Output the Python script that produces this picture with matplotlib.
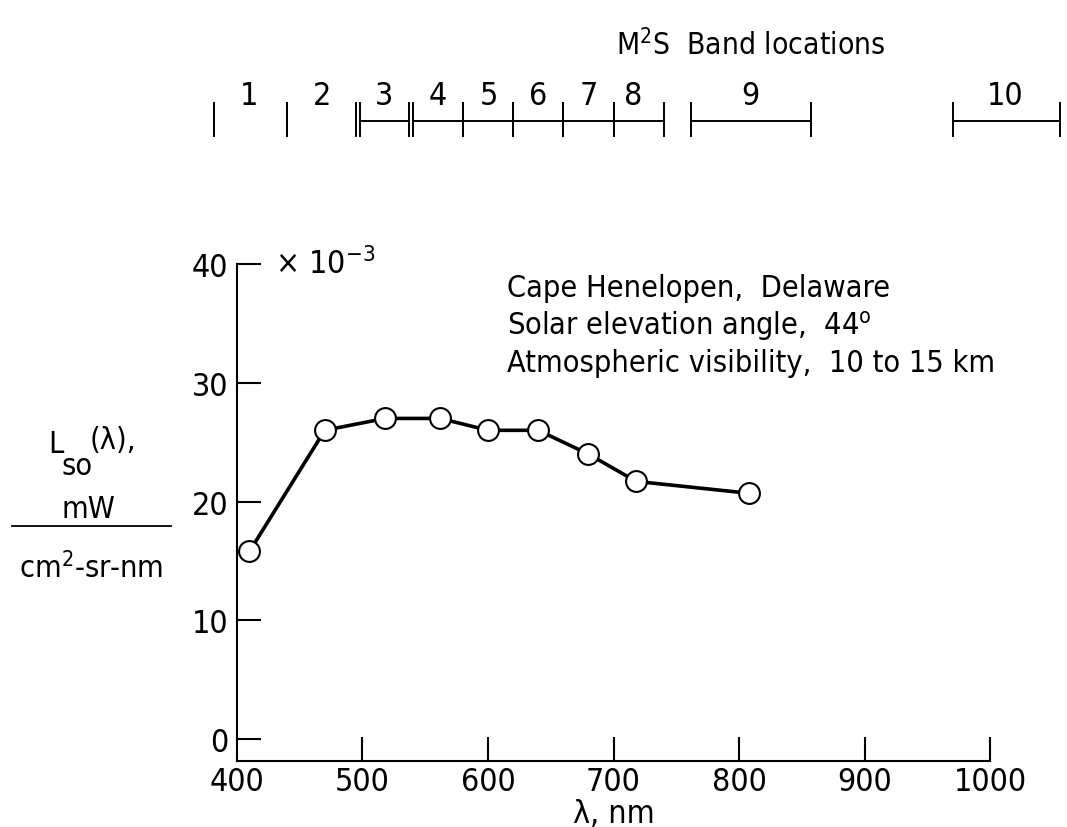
import matplotlib
matplotlib.use('Agg')
import matplotlib.pyplot as plt
import matplotlib.transforms as mtransforms

plt.rcParams['font.family'] = ['DejaVu Sans']
plt.rcParams['font.stretch'] = 'condensed'
plt.rcParams['mathtext.default'] = 'regular'

# measured radiance, band centres (nm) and values (x 10^-3)
wavelength = [410, 470, 518, 562, 600, 640, 680, 718, 808]
radiance = [15.8, 26.0, 27.0, 27.0, 26.0, 26.0, 24.0, 21.7, 20.7]

# M2S band locations
band_names = ['1', '2', '3', '4', '5', '6', '7', '8', '9', '10']
band_start = [382, 440, 498, 540, 580, 620, 660, 700, 762, 970]
band_end = [440, 495, 537, 580, 620, 660, 700, 740, 857, 1056]
band_label_x = [410, 468, 517, 560, 601, 640, 680, 716, 809, 1012]

x_ticks = [400, 500, 600, 700, 800, 900, 1000]
y_ticks = [0, 10, 20, 30, 40]

notes = ['Cape Henelopen,  Delaware',
         'Solar elevation angle,  44$^{o}$',
         'Atmospheric visibility,  10 to 15 km']

fig = plt.figure(figsize=(10.67, 8.28), dpi=100)
ax = fig.add_axes([0.222, 0.106, 0.706, 0.574])

ax.plot(wavelength, radiance, color='black', linewidth=2.6, marker='o',
        markersize=15, markerfacecolor='white', markeredgecolor='black',
        markeredgewidth=1.5, clip_on=False, zorder=3)

ax.set_xlim(400, 1000)
ax.set_ylim(0, 40)
ax.set_xticks(x_ticks)
ax.set_yticks(y_ticks)
ax.spines['top'].set_visible(False)
ax.spines['right'].set_visible(False)
ax.spines['bottom'].set_position(('outward', 16))
for s in ['left', 'bottom']:
    ax.spines[s].set_linewidth(1.5)
ax.tick_params(axis='both', direction='in', length=17, width=1.5, labelsize=23)
ax.tick_params(axis='x', pad=3)
ax.tick_params(axis='y', pad=6)

ax.set_xlabel('λ, nm', fontsize=23, labelpad=1)

ax.text(0.05, 1.0, r'$\times$ 10$^{-3}$', transform=ax.transAxes,
        fontsize=23, ha='left', va='center')

# notes, one line each
for k, line in enumerate(notes):
    fig.text(0.475, [0.6413, 0.5954, 0.5507][k], line, fontsize=22,
             ha='left', va='baseline')

# y label as a fraction, subscript drawn as its own text
fig.text(0.045, 0.453, 'L', fontsize=22, ha='left', va='baseline')
fig.text(0.058, 0.4263, 'so', fontsize=22, ha='left', va='baseline')
fig.text(0.084, 0.458, '(λ),', fontsize=22, ha='left', va='baseline')
fig.text(0.083, 0.3744, 'mW', fontsize=22, ha='center', va='baseline')
fig.add_artist(plt.Line2D([0.011, 0.160], [0.3635, 0.3635], color='black',
                          linewidth=1.3, transform=fig.transFigure))
fig.text(0.085, 0.302, 'cm$^{2}$-sr-nm', fontsize=22, ha='center',
         va='baseline')

# band location scale on top
trans = mtransforms.blended_transform_factory(ax.transData, fig.transFigure)
y_line = 0.853
for i, name in enumerate(band_names):
    x0, x1 = band_start[i], band_end[i]
    if i >= 2:
        ax.plot([x0, x1], [y_line, y_line], color='black', linewidth=1.4,
                transform=trans, clip_on=False)
    for xv in (x0, x1):
        ax.plot([xv, xv], [y_line - 0.018, y_line + 0.022], color='black',
                linewidth=1.4, transform=trans, clip_on=False)
    ax.text(band_label_x[i], 0.883, name, transform=trans, fontsize=23,
            ha='center', va='center')

fig.text(0.704, 0.945, 'M$^{2}$S  Band locations', fontsize=21.5,
         ha='center', va='center')

fig.savefig('out.png', dpi=100)
